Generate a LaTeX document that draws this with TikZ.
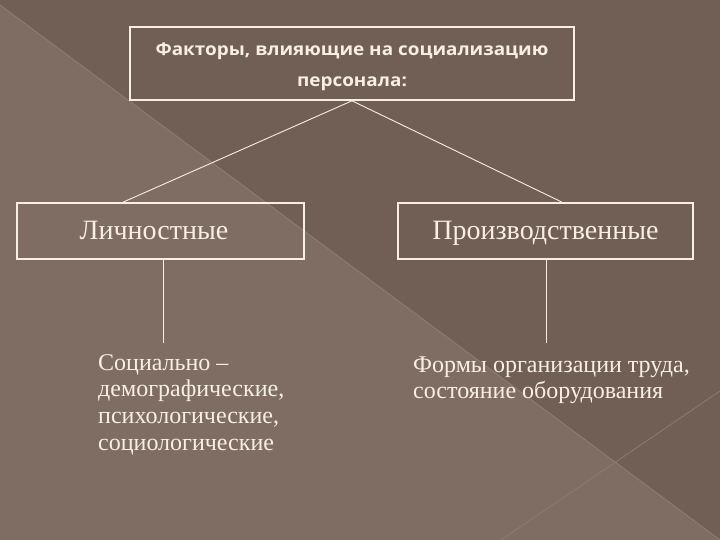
\documentclass[tikz,border=0pt]{standalone}
\usepackage{fontspec}
\setmainfont{Liberation Serif}
\newfontfamily\titlefont[FakeStretch=1.08]{Open Sans}
\usetikzlibrary{calc}
\definecolor{bgdark}{RGB}{113,95,85}
\definecolor{bglight}{RGB}{127,109,99}
\definecolor{bgline}{RGB}{140,122,112}
\definecolor{cream}{RGB}{246,239,226}
\tikzset{
  boxline/.style={draw=cream, line width=1.6pt},
  conn/.style={draw=cream, line width=0.9pt},
  boxtext/.style={boxline, text=cream, font=\fontsize{28}{30}\selectfont, inner sep=0pt,
                  text height=18pt, text depth=0pt},
  bodytext/.style={text=cream, font=\fontsize{24}{26.7}\selectfont, align=flush left, inner sep=0pt, anchor=base west},
}
\begin{document}
\begin{tikzpicture}[x=1pt,y=-1pt]
\useasboundingbox (0,0) rectangle (720,540);
% background
\fill[bgdark] (0,0) rectangle (720,540);
\fill[bglight] (0,5) -- (720,540) -- (0,540) -- cycle;
\draw[bgline, line width=1pt] (0,5) -- (720,540);
\draw[bgline, line width=0.8pt] (501,540) -- (720,391);
% nodes
\node[boxline, text=cream, minimum width=444pt, minimum height=73pt, inner sep=0pt,
      align=center, font=\titlefont\bfseries\fontsize{17.5}{31}\selectfont]
  (top) at (352,63.5) {\rule{0pt}{20pt}Факторы, влияющие на социализацию\\персонала:};
\node[boxtext, minimum width=287pt, minimum height=56pt] (lbox) at (160.5,231) {\hspace*{-13pt}Личностные};
\node[boxtext, minimum width=295pt, minimum height=56pt] (rbox) at (545.5,231) {Производственные};
\node[bodytext, text width=220pt] (ltext) at (98,370)
  {Социально –\\демографические,\\психологические,\\социологические};
\node[bodytext, text width=300pt] (rtext) at (413,372)
  {Формы организации труда,\\состояние оборудования};
% connectors
\coordinate (lend) at (163,343);
\coordinate (rend) at (546,343);
\draw[conn] (top.south) -- ($(lbox.north west)!0.37!(lbox.north east)$);
\draw[conn] (top.south) -- ($(rbox.north west)!0.556!(rbox.north east)$);
\draw[conn] (lbox.south -| lend) -- (lend);
\draw[conn] (rbox.south -| rend) -- (rend);
\end{tikzpicture}
\end{document}
